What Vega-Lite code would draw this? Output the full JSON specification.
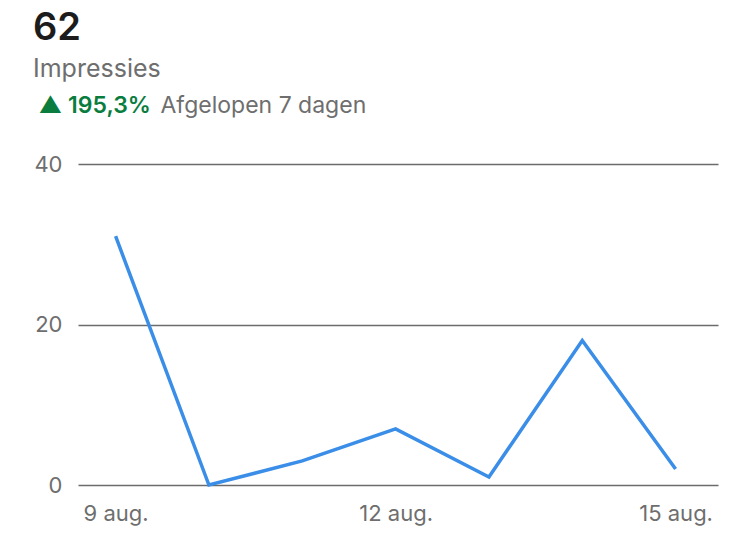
{
  "$schema": "https://vega.github.io/schema/vega-lite/v6.json",
  "width": 640,
  "height": 321,
  "autosize": "none",
  "padding": {"left": 78, "top": 164, "right": 32, "bottom": 70},
  "background": "white",
  "title": {
    "text": "62",
    "subtitle": "Impressies",
    "anchor": "start",
    "frame": "group",
    "dx": -45,
    "offset": 12,
    "font": "Inter",
    "fontSize": 38,
    "fontWeight": 600,
    "color": "#1c1c1c",
    "subtitleFont": "Inter",
    "subtitleFontSize": 25,
    "subtitleColor": "#6e6e6e",
    "subtitlePadding": 9
  },
  "data": {
    "values": [
      {"dag": "9 aug.", "impressies": 31},
      {"dag": "10 aug.", "impressies": 0},
      {"dag": "11 aug.", "impressies": 3},
      {"dag": "12 aug.", "impressies": 7},
      {"dag": "13 aug.", "impressies": 1},
      {"dag": "14 aug.", "impressies": 18},
      {"dag": "15 aug.", "impressies": 2}
    ]
  },
  "mark": {"type": "line", "color": "#3a8ee8", "strokeWidth": 3.5},
  "encoding": {
    "x": {
      "field": "dag",
      "type": "ordinal",
      "sort": null,
      "scale": {"type": "point", "padding": 0.4286, "align": 0.47},
      "axis": {
        "labelExpr": "indexof(['9 aug.','12 aug.','15 aug.'], datum.value) >= 0 ? datum.value : ''",
        "labelAngle": 0,
        "ticks": false,
        "domain": false,
        "grid": false,
        "labelPadding": 18,
        "labelFont": "Inter",
        "labelFontSize": 22,
        "labelColor": "#6e6e6e",
        "title": "Afgelopen 7 dagen",
        "titleX": 82,
        "titleY": -373,
        "titleAlign": "left",
        "titleBaseline": "alphabetic",
        "titleFont": "Inter",
        "titleFontSize": 23,
        "titleFontWeight": "normal",
        "titleColor": "#6e6e6e"
      }
    },
    "y": {
      "field": "impressies",
      "type": "quantitative",
      "scale": {"domain": [0, 40]},
      "axis": {
        "values": [0, 20, 40],
        "grid": true,
        "gridColor": "#6b6b6b",
        "gridWidth": 1.5,
        "domain": false,
        "ticks": false,
        "labelPadding": 16,
        "labelFont": "Inter",
        "labelFontSize": 22,
        "labelColor": "#6e6e6e",
        "title": "▲ 195,3%",
        "titleAngle": 0,
        "titleAlign": "left",
        "titleBaseline": "alphabetic",
        "titleX": -40,
        "titleY": -52,
        "titleFont": "Inter",
        "titleFontSize": 23,
        "titleFontWeight": 600,
        "titleColor": "#0a7d3e"
      }
    }
  },
  "config": {"view": {"stroke": null}}
}
